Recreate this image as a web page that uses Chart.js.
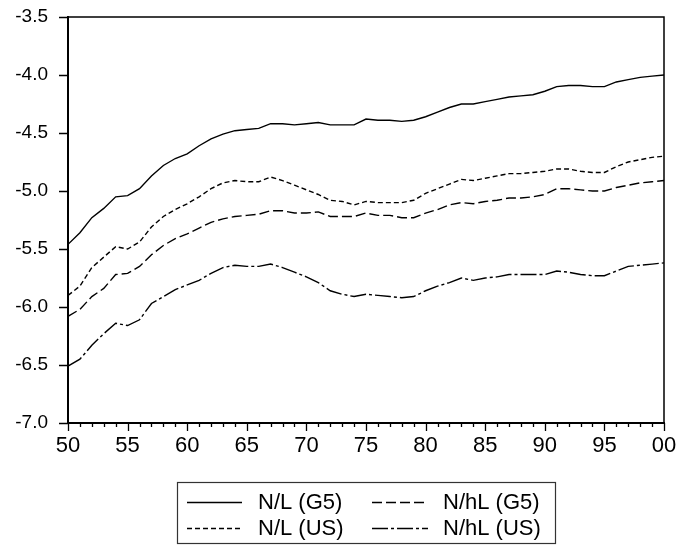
<!DOCTYPE html>
<html>
<head>
<meta charset="utf-8">
<script src="https://cdn.jsdelivr.net/npm/chart.js@4.4.1/dist/chart.umd.min.js"></script>
<style>
  html, body { margin: 0; padding: 0; background: #fff; }
  #wrap { width: 676px; height: 548px; position: relative; }
</style>
</head>
<body>
<div id="wrap"><canvas id="grafico"></canvas></div>
<script>
// anos (eixo x)
const anos = [1950, 1951, 1952, 1953, 1954, 1955, 1956, 1957, 1958, 1959,
              1960, 1961, 1962, 1963, 1964, 1965, 1966, 1967, 1968, 1969,
              1970, 1971, 1972, 1973, 1974, 1975, 1976, 1977, 1978, 1979,
              1980, 1981, 1982, 1983, 1984, 1985, 1986, 1987, 1988, 1989,
              1990, 1991, 1992, 1993, 1994, 1995, 1996, 1997, 1998, 1999, 2000];

const nlG5 = [-5.46, -5.36, -5.23, -5.15, -5.05, -5.04, -4.98, -4.87, -4.78, -4.72,
              -4.68, -4.61, -4.55, -4.51, -4.48, -4.47, -4.46, -4.42, -4.42, -4.43,
              -4.42, -4.41, -4.43, -4.43, -4.43, -4.38, -4.39, -4.39, -4.40, -4.39,
              -4.36, -4.32, -4.28, -4.25, -4.25, -4.23, -4.21, -4.19, -4.18, -4.17,
              -4.14, -4.10, -4.09, -4.09, -4.10, -4.10, -4.06, -4.04, -4.02, -4.01, -4.00];

const nlUS = [-5.90, -5.82, -5.66, -5.57, -5.48, -5.50, -5.44, -5.31, -5.22, -5.16,
              -5.11, -5.05, -4.98, -4.93, -4.91, -4.92, -4.92, -4.88, -4.91, -4.95,
              -4.99, -5.03, -5.08, -5.09, -5.12, -5.09, -5.10, -5.10, -5.10, -5.08,
              -5.02, -4.98, -4.94, -4.90, -4.91, -4.89, -4.87, -4.85, -4.85, -4.84,
              -4.83, -4.81, -4.81, -4.83, -4.84, -4.84, -4.79, -4.75, -4.73, -4.71, -4.70];

const nhlG5 = [-6.08, -6.02, -5.91, -5.84, -5.72, -5.71, -5.65, -5.55, -5.47, -5.41,
               -5.37, -5.32, -5.27, -5.24, -5.22, -5.21, -5.20, -5.17, -5.17, -5.19,
               -5.19, -5.18, -5.22, -5.22, -5.22, -5.19, -5.21, -5.21, -5.23, -5.23,
               -5.19, -5.16, -5.12, -5.10, -5.11, -5.09, -5.08, -5.06, -5.06, -5.05,
               -5.03, -4.98, -4.98, -4.99, -5.00, -5.00, -4.97, -4.95, -4.93, -4.92, -4.91];

const nhlUS = [-6.51, -6.45, -6.33, -6.23, -6.14, -6.16, -6.11, -5.97, -5.91, -5.85,
               -5.81, -5.77, -5.71, -5.66, -5.64, -5.65, -5.65, -5.63, -5.66, -5.70,
               -5.74, -5.79, -5.86, -5.89, -5.91, -5.89, -5.90, -5.91, -5.92, -5.91,
               -5.86, -5.82, -5.79, -5.75, -5.77, -5.75, -5.74, -5.72, -5.72, -5.72,
               -5.72, -5.69, -5.70, -5.72, -5.73, -5.73, -5.69, -5.65, -5.64, -5.63, -5.62];

const rotulos = ['N/L (G5)', 'N/hL (G5)', 'N/L (US)', 'N/hL (US)'];

const pontos = (serie) => anos.map((a, i) => ({ x: a, y: serie[i] }));

function serie(label, valores, dash) {
    return {
        label: label,
        data: pontos(valores),
        borderColor: '#000',
        borderWidth: 1.4,
        borderDash: dash,
        pointRadius: 0,
        tension: 0,
        fill: false
    };
}

// moldura, marcas dos eixos e legenda em caixa
const extras = {
    id: 'extras',
    afterDraw(chart) {
        const ctx = chart.ctx;
        const a = chart.chartArea;
        const sx = chart.scales.x, sy = chart.scales.y;
        ctx.save();
        ctx.strokeStyle = '#000';
        ctx.lineWidth = 1.5;
        ctx.beginPath();
        ctx.moveTo(a.left, a.top); ctx.lineTo(a.right, a.top); ctx.lineTo(a.right, a.bottom);
        ctx.stroke();

        ctx.lineWidth = 1.3;
        ctx.beginPath();
        anos.forEach(ano => {
            const px = Math.round(sx.getPixelForValue(ano)) + 0.5;
            ctx.moveTo(px, a.bottom);
            ctx.lineTo(px, a.bottom + (ano % 5 === 0 ? 8 : 4));
        });
        sy.ticks.forEach(t => {
            const py = Math.round(sy.getPixelForValue(t.value)) + 0.5;
            ctx.moveTo(a.left - 9, py);
            ctx.lineTo(a.left, py);
        });
        ctx.stroke();

        // legenda
        const box = { x: 177.5, y: 482.5, w: 378, h: 61 };
        ctx.lineWidth = 1.2;
        ctx.strokeStyle = '#333';
        ctx.strokeRect(box.x, box.y, box.w, box.h);
        const cols = [{ l0: 187, l1: 242, tx: 258 }, { l0: 372, l1: 428, tx: 443 }];
        const rows = [502, 528];
        ctx.font = '22px "Liberation Sans", Arial, sans-serif';
        ctx.textBaseline = 'middle';
        ctx.fillStyle = '#000';
        chart.data.datasets.forEach((ds, i) => {
            const c = cols[i % 2], y = rows[Math.floor(i / 2)];
            ctx.strokeStyle = '#000';
            ctx.lineWidth = 1.3;
            ctx.setLineDash(ds.borderDash || []);
            ctx.beginPath();
            ctx.moveTo(c.l0, y + 0.5);
            ctx.lineTo(c.l1, y + 0.5);
            ctx.stroke();
            ctx.setLineDash([]);
            ctx.fillText(ds.label, c.tx, y + 1);
        });
        ctx.restore();
    }
};

const ctxGrafico = document.getElementById('grafico').getContext('2d');
const grafico = new Chart(ctxGrafico, {
    type: 'line',
    data: {
        datasets: [
            serie(rotulos[0], nlG5, []),
            serie(rotulos[1], nhlG5, [10, 4]),
            serie(rotulos[2], nlUS, [5, 3]),
            serie(rotulos[3], nhlUS, [16, 3, 3, 3])
        ]
    },
    options: {
        responsive: true,
        maintainAspectRatio: false,
        animation: false,
        layout: { padding: { left: 0, top: 17, right: 12, bottom: 0 } },
        plugins: {
            legend: { display: false },
            tooltip: { enabled: false }
        },
        scales: {
            x: {
                type: 'linear',
                min: 1950,
                max: 2000,
                afterFit(scale) {
                    scale.height = 125;
                    scale.paddingLeft = 0;
                    scale.paddingRight = 0;
                },
                grid: { display: false, drawTicks: false },
                border: { display: true, color: '#000', width: 2 },
                ticks: {
                    stepSize: 5,
                    autoSkip: false,
                    maxRotation: 0,
                    padding: 10,
                    color: '#000',
                    font: { family: '"Liberation Sans", Arial, sans-serif', size: 22 },
                    callback: (v) => String(v % 100).padStart(2, '0')
                }
            },
            y: {
                min: -7.0,
                max: -3.5,
                afterFit(scale) {
                    scale.width = 68;
                    scale.paddingTop = 0;
                    scale.paddingBottom = 0;
                },
                grid: { display: false, drawTicks: false },
                border: { display: true, color: '#000', width: 2 },
                ticks: {
                    stepSize: 0.5,
                    padding: 20,
                    color: '#000',
                    font: { family: '"Liberation Sans", Arial, sans-serif', size: 19 },
                    callback: (v) => v.toFixed(1)
                }
            }
        }
    },
    plugins: [extras]
});
</script>
</body>
</html>
